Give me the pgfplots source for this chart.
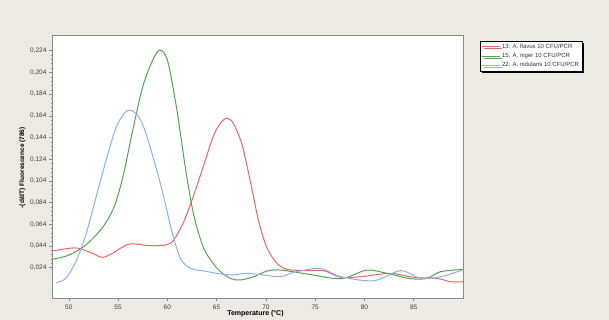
\documentclass[border=0pt]{standalone}
\usepackage{pgfplots}
\pgfplotsset{compat=1.18}
\usepackage{fontspec}
\setmainfont{Liberation Sans}
\usetikzlibrary{shadows}
\definecolor{bgc}{HTML}{EDE9E3}
\definecolor{cred}{HTML}{F06464}
\definecolor{cgreen}{HTML}{52A552}
\definecolor{cblue}{HTML}{8EB0F2}
\definecolor{axgray}{HTML}{8A8A8A}
\begin{document}
\begin{tikzpicture}[x=1pt,y=1pt]
\fill[bgc] (0,0) rectangle (609,320);
\useasboundingbox (0,0) rectangle (609,320);
\begin{axis}[
  scale only axis, width=411pt, height=263pt,
  at={(52pt,22pt)}, anchor=south west,
  axis background/.style={fill=white},
  xmin=48.3, xmax=90, ymin=-0.0039, ymax=0.2385,
  xtick={50,55,...,85},
  ytick={0.024,0.044,0.064,0.084,0.104,0.124,0.144,0.164,0.184,0.204,0.224},
  minor y tick num=4,
  tick pos=left, tick align=outside,
  major tick length=3pt, minor tick length=1.5pt,
  axis line style={axgray, line width=0.9pt},
  every tick/.style={axgray, line width=0.5pt},
  /pgf/number format/assume math mode=true,
  /pgf/number format/use comma,
  yticklabel style={/pgf/number format/fixed, /pgf/number format/precision=3, /pgf/number format/fixed zerofill, font=\fontsize{6.5}{7}\selectfont, text=black!75, xshift=1pt},
  xticklabel style={font=\fontsize{6.5}{7}\selectfont, text=black!75},
  scaled y ticks=false,
  xlabel={Temperature (°C)},
  xlabel style={font=\bfseries\fontsize{7}{8}\selectfont, at={(axis description cs:0.495,-0.061)}, anchor=center},
  ylabel={-(d/dT) Fluorescence (786)},
  ylabel style={font=\bfseries\fontsize{6.5}{7}\selectfont, at={(axis description cs:-0.072,0.495)}, anchor=center, rotate=0},
  legend style={at={(axis description cs:1.041,0.978)}, anchor=north west,
    font=\fontsize{6}{6.5}\selectfont, draw=black, line width=0.5pt, inner sep=1pt, row sep=-0.8pt,
    drop shadow={shadow xshift=2pt, shadow yshift=-2pt, fill=black, opacity=1}, fill=white, text=black!80},
  legend cell align=left,
  legend image code/.code={\draw[#1, line width=1pt, sharp plot] (0pt,0pt) -- (18pt,0pt);},
  clip=true,
]
\addplot[cred, line width=1pt, smooth] coordinates {
(48.3,0.0394) (50.04,0.0419) (51.05,0.0419) (52.4,0.0373) (53.42,0.0336) (54.43,0.0373) (56.12,0.0458) (58.15,0.0443) (59.81,0.0449) (60.65,0.0495) (61.67,0.0664) (62.68,0.0910) (63.7,0.1187) (64.71,0.1463) (65.5,0.1585) (66.07,0.1617) (66.7,0.1571) (67.59,0.1371) (68.43,0.1033) (69.28,0.0664) (70.13,0.0419) (71.14,0.0280) (72.15,0.0225) (74.18,0.0213) (75.87,0.0213) (77.6,0.0151) (79.6,0.0157) (82.6,0.0188) (85.0,0.0151) (87.37,0.0142) (88.73,0.0111) (90,0.0111)};
\addlegendentry{13: A. flavus 10 CFU/PCR}
\addplot[cgreen, line width=1pt, smooth] coordinates {
(48.3,0.0317) (50.04,0.0357) (51.72,0.0449) (53.42,0.0610) (54.6,0.0800) (55.5,0.1080) (56.46,0.1493) (57.48,0.1900) (58.5,0.2150) (59.27,0.2246) (60.05,0.2140) (61.0,0.1678) (61.84,0.1156) (62.68,0.0726) (63.7,0.0419) (65.05,0.0234) (66.4,0.0142) (67.42,0.0127) (68.77,0.0157) (70.13,0.0210) (71.48,0.0219) (74.18,0.0182) (76.88,0.0142) (78.24,0.0151) (80.27,0.0219) (82.3,0.0188) (84.67,0.0139) (86.36,0.0142) (87.7,0.0203) (90,0.0225)};
\addlegendentry{15: A. niger 10 CFU/PCR}
\addplot[cblue, line width=1pt, smooth] coordinates {
(48.68,0.0102) (49.7,0.0142) (50.71,0.0295) (51.72,0.0540) (52.74,0.0880) (53.75,0.1217) (54.77,0.1525) (55.62,0.1663) (56.19,0.1693) (56.97,0.1647) (57.65,0.1525) (58.49,0.1279) (59.51,0.0940) (60.42,0.0590) (61.33,0.0327) (62.35,0.0234) (63.7,0.0210) (65.05,0.0188) (66.4,0.0173) (68.1,0.0188) (69.78,0.0173) (71.48,0.0157) (72.83,0.0197) (75.5,0.0234) (77.6,0.0157) (80.95,0.0120) (83.66,0.0213) (85.69,0.0142) (87.7,0.0157) (90,0.0220)};
\addlegendentry{22: A. nidulans 10 CFU/PCR}
\node[font=\bfseries\itshape\fontsize{8.5}{9}\selectfont, anchor=center] at (axis description cs:0.457,1.042) {Melting Peaks};
\end{axis}
\end{tikzpicture}
\end{document}
